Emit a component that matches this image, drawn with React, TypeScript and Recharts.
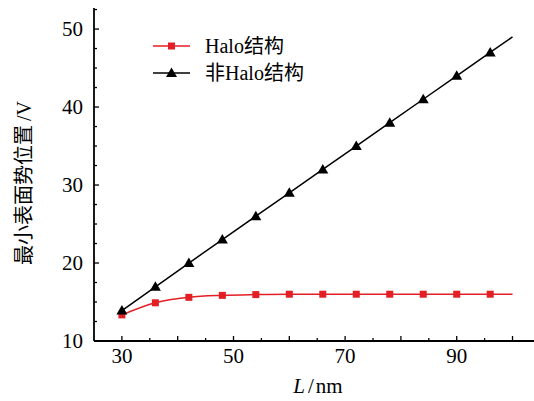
import { LineChart, Line, XAxis, YAxis, Legend } from "recharts";

// channel length L (nm); last point is the end of the fitted line (no marker)
const lengthNm = [30, 36, 42, 48, 54, 60, 66, 72, 78, 84, 90, 96, 100];
const haloV = [13.35, 14.9, 15.6, 15.85, 15.95, 16, 16, 16, 16, 16, 16, 16, 16];
const nonHaloV = [13.9, 16.95, 20, 23, 26, 29, 32, 35, 38, 41, 44, 47, 49];
const markedCount = 12;

const xTicks = [30, 35, 40, 45, 50, 55, 60, 65, 70, 75, 80, 85, 90, 95, 100];
const xTickLabels = [30, 50, 70, 90];
const yTicks = [10, 12.5, 15, 17.5, 20, 22.5, 25, 27.5, 30, 32.5, 35, 37.5, 40, 42.5, 45, 47.5, 50, 52.5];
const yTickLabels = [10, 20, 30, 40, 50];
const seriesNames = ["Halo结构", "非Halo结构"];

const RED = "#e31e24";
const SERIF = "'Liberation Serif', 'DejaVu Serif', 'Noto Sans CJK SC', serif";

const data = lengthNm.map((L, i) => ({
  L,
  halo: haloV[i],
  nonHalo: nonHaloV[i],
  marked: i < markedCount,
}));

function Square({ cx, cy, color }: { cx: number; cy: number; color: string }) {
  return <rect x={cx - 3.5} y={cy - 3.5} width={7} height={7} fill={color} />;
}

function Triangle({ cx, cy, color }: { cx: number; cy: number; color: string }) {
  return <polygon points={`${cx},${cy - 5.5} ${cx + 5.5},${cy + 4} ${cx - 5.5},${cy + 4}`} fill={color} />;
}

function haloDot(props: any) {
  const { cx, cy, payload, index } = props;
  if (!payload.marked) return <g key={`h${index}`} />;
  return (
    <g key={`h${index}`}>
      <Square cx={cx} cy={cy} color={RED} />
    </g>
  );
}

function nonHaloDot(props: any) {
  const { cx, cy, payload, index } = props;
  if (!payload.marked) return <g key={`n${index}`} />;
  return (
    <g key={`n${index}`}>
      <Triangle cx={cx} cy={cy} color="#000" />
    </g>
  );
}

function XTick(props: any) {
  const { x, y, payload } = props;
  const v = payload.value;
  const len = v % 10 === 0 ? 5 : 3;
  return (
    <g>
      <line x1={x} x2={x} y1={y} y2={y - len} stroke="#000" strokeWidth={1.3} />
      {xTickLabels.includes(v) && (
        <text x={x} y={y + 22} textAnchor="middle" fontFamily={SERIF} fontSize={21} fill="#000">
          {v}
        </text>
      )}
    </g>
  );
}

function YTick(props: any) {
  const { x, y, payload } = props;
  const v = payload.value;
  const len = v % 10 === 0 ? 5 : 3;
  return (
    <g>
      {v > 10 && <line x1={x} x2={x + len} y1={y} y2={y} stroke="#000" strokeWidth={1.3} />}
      {yTickLabels.includes(v) && (
        <text x={x - 11} y={y} dy="0.35em" textAnchor="end" fontFamily={SERIF} fontSize={21} fill="#000">
          {v}
        </text>
      )}
    </g>
  );
}

function renderLegend() {
  return (
    <svg width={220} height={60}>
      {seriesNames.map((name, i) => {
        const color = i === 0 ? RED : "#000";
        const cy = 10 + i * 27;
        return (
          <g key={name}>
            <line x1={0} x2={37} y1={cy} y2={cy} stroke={color} strokeWidth={1.5} />
            {i === 0 ? <Square cx={18.5} cy={cy} color={color} /> : <Triangle cx={18.5} cy={cy} color={color} />}
            <text x={52} y={cy} dy="0.35em" fontFamily={SERIF} fontSize={20} fill="#000">
              {name}
            </text>
          </g>
        );
      })}
    </svg>
  );
}

export default function App() {
  return (
    <div style={{ position: "absolute", left: 0, top: 0, background: "#fff" }}>
      <LineChart width={534} height={401} data={data} margin={{ top: 8, right: 0, bottom: 0, left: 0 }}>
        <XAxis
          dataKey="L"
          type="number"
          domain={[25, 103.85]}
          allowDataOverflow
          ticks={xTicks}
          interval={0}
          tick={<XTick />}
          tickLine={false}
          tickSize={0}
          tickMargin={0}
          height={60}
          axisLine={{ stroke: "#000", strokeWidth: 1.8 }}
          label={{
            content: () => (
              <text x={318} y={393} textAnchor="middle" fontFamily={SERIF} fontSize={21} fill="#000">
                <tspan fontStyle="italic">L</tspan>
                <tspan dx={3}>/</tspan>
                <tspan dx={2}>nm</tspan>
              </text>
            ),
          }}
        />
        <XAxis
          xAxisId="top"
          orientation="top"
          dataKey="L"
          type="number"
          domain={[25, 103.85]}
          allowDataOverflow
          tick={false}
          tickLine={false}
          height={0}
          axisLine={{ stroke: "#000", strokeWidth: 1.8 }}
        />
        <YAxis
          type="number"
          domain={[10, 52.7]}
          allowDataOverflow
          ticks={yTicks}
          interval={0}
          tick={<YTick />}
          tickLine={false}
          tickSize={0}
          tickMargin={0}
          width={94}
          axisLine={{ stroke: "#000", strokeWidth: 1.8 }}
          label={{
            content: () => (
              <text
                transform="translate(24,183) rotate(-90)"
                textAnchor="middle"
                dy="0.35em"
                fontFamily={SERIF}
                fontSize={20}
                fill="#000"
              >
                最小表面势位置<tspan dx={4}>/V</tspan>
              </text>
            ),
          }}
        />
        <Legend
          layout="vertical"
          verticalAlign="middle"
          align="center"
          content={renderLegend}
          wrapperStyle={{ position: "absolute", left: 153, top: 36, width: 220, height: 60 }}
        />
        <Line
          type="monotone"
          dataKey="halo"
          name={seriesNames[0]}
          stroke={RED}
          strokeWidth={1.5}
          dot={haloDot}
          activeDot={false}
          isAnimationActive={false}
        />
        <Line
          type="linear"
          dataKey="nonHalo"
          name={seriesNames[1]}
          stroke="#000"
          strokeWidth={1.5}
          dot={nonHaloDot}
          activeDot={false}
          isAnimationActive={false}
        />
      </LineChart>
    </div>
  );
}
